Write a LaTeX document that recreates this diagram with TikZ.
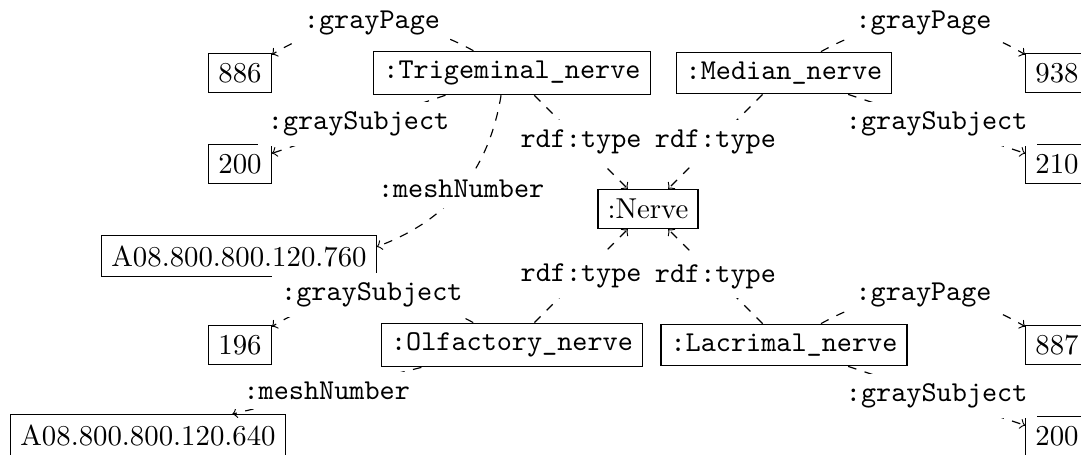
\documentclass[tikz,border=0pt]{standalone}
\usepackage{fontspec}
\begin{document}
\begin{tikzpicture}[x=0.34722pt,y=-0.34722pt,
  res/.style={draw,rectangle,font=\ttfamily},
  lit/.style={draw,rectangle},
  rel/.style={dashed,->},
  lbl/.style={fill=white,font=\ttfamily}]
\useasboundingbox (0,0) rectangle (1081,454);
% resources
\node[res] (trig)   at (512,73)  {:Trigeminal\_nerve};
\node[res] (median) at (784,73)  {:Median\_nerve};
\node[lit] (nerve)  at (648,209) {:Nerve};
\node[res] (olf)    at (512,345) {:Olfactory\_nerve};
\node[res] (lac)    at (784,345) {:Lacrimal\_nerve};
% literals
\node[lit] (p886)  at (240,73)  {886};
\node[lit] (s200a) at (240,164) {200};
\node[lit] (m760)  at (239,256) {A08.800.800.120.760};
\node[lit] (s196)  at (240,345) {196};
\node[lit] (m640)  at (148,435) {A08.800.800.120.640};
\node[lit] (p938)  at (1057,73)  {938};
\node[lit] (s210)  at (1057,164) {210};
\node[lit] (p887)  at (1057,345) {887};
\node[lit] (s200b) at (1057,436) {200};
% edges
\draw[rel] (trig) to[bend right=30] node[lbl] {:grayPage} (p886);
\draw[rel] (trig) -- node[lbl] {:graySubject} (s200a);
\draw[rel] (trig) -- node[lbl] {rdf:type} (nerve);
\draw[rel] (trig) to[bend left=30] node[lbl] {:meshNumber} (m760);
\draw[rel] (median) to[bend left=30] node[lbl] {:grayPage} (p938);
\draw[rel] (median) -- node[lbl] {:graySubject} (s210);
\draw[rel] (median) -- node[lbl] {rdf:type} (nerve);
\draw[rel] (olf) -- node[lbl] {rdf:type} (nerve);
\draw[rel] (olf) to[bend right=30] node[lbl] {:graySubject} (s196);
\draw[rel] (olf) -- node[lbl] {:meshNumber} (m640);
\draw[rel] (lac) -- node[lbl] {rdf:type} (nerve);
\draw[rel] (lac) to[bend left=30] node[lbl] {:grayPage} (p887);
\draw[rel] (lac) -- node[lbl] {:graySubject} (s200b);
\end{tikzpicture}
\end{document}
